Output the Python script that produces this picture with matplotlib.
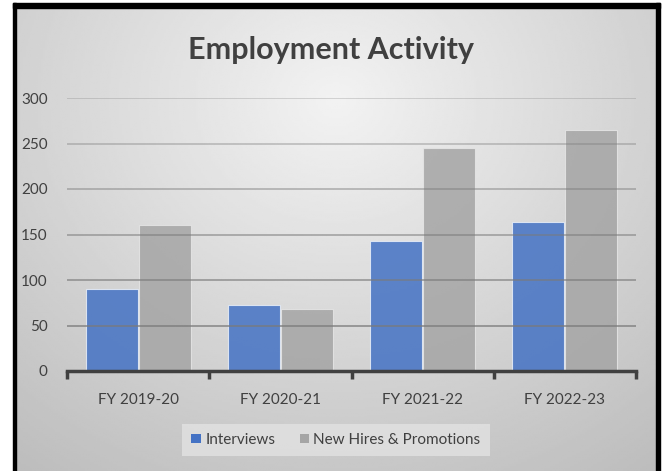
import numpy as np
import matplotlib
matplotlib.use("Agg")
import matplotlib.pyplot as plt
from matplotlib.patches import Rectangle

years = ["FY 2019-20", "FY 2020-21", "FY 2021-22", "FY 2022-23"]
interviews = [90, 72, 143, 164]
hires = [160, 68, 245, 265]
yticks = [0, 50, 100, 150, 200, 250, 300]

plt.rcParams['font.family'] = ['Lato', 'DejaVu Sans']
txt = '#404040'

W, H = 662, 471
fig = plt.figure(figsize=(W / 100, H / 100), dpi=100)
fig.patch.set_facecolor('white')

# gradient background inside the black frame
bg = fig.add_axes([16 / W, 0, (656 - 16) / W, 1 - 7 / H])
bg.set_axis_off()
gx, gy = np.meshgrid(np.linspace(0, 1, 300), np.linspace(0, 1, 220))
r = np.sqrt(((gx - 0.5) / 0.75) ** 2 + ((gy - 0.2) / 0.9) ** 2)
shade = 0.95 - 0.19 * np.clip(r, 0, 1.2)
bg.imshow(shade, cmap='gray', vmin=0, vmax=1, aspect='auto',
          extent=[0, 1, 1, 0], interpolation='bilinear')
bg.set_xlim(0, 1)
bg.set_ylim(1, 0)

# black frame lines (left, top, right)
fig.patches.append(Rectangle((13 / W, 0), 3 / W, 1 - 3 / H, transform=fig.transFigure,
                             color='black', zorder=5))
fig.patches.append(Rectangle((13 / W, 1 - 8 / H), (660 - 13) / W, 5 / H,
                             transform=fig.transFigure, color='black', zorder=5))
fig.patches.append(Rectangle((656 / W, 0), 4 / W, 1 - 3 / H, transform=fig.transFigure,
                             color='black', zorder=5))

ax = fig.add_axes([67 / W, 1 - 371 / H, (636 - 67) / W, (371 - 98) / H])
ax.set_facecolor('none')
x = np.arange(len(years))
w = 0.365
ax.bar(x - w / 2 - 0.004, interviews, w, color='#4472C4', alpha=0.85,
       edgecolor='#e8eef8', linewidth=0.8, zorder=2, label='Interviews')
ax.bar(x + w / 2 + 0.004, hires, w, color='#A5A5A5', alpha=0.85,
       edgecolor='#e6e6e6', linewidth=0.8, zorder=2, label='New Hires & Promotions')

ax.set_xlim(-0.5, 3.5)
ax.set_ylim(0, 300)
ax.set_yticks(yticks)
# gridlines fade towards the top like the original
for v in yticks[1:]:
    ax.axhline(v, color='#7a7a7a', linewidth=1.3, zorder=3,
               alpha=0.75 - 0.45 * (v - 50) / 250)
for s in ['top', 'right', 'left']:
    ax.spines[s].set_visible(False)
ax.spines['bottom'].set_color('#404040')
ax.spines['bottom'].set_linewidth(2.5)
ax.spines['bottom'].set_zorder(4)

ax.set_xticks(x)
ax.set_xticklabels(years)
ax.set_xticks(np.arange(-0.5, 4.0, 1.0), minor=True)
ax.tick_params(axis='x', which='major', length=0, pad=16, labelsize=11, labelcolor=txt)
ax.tick_params(axis='x', which='minor', length=6, width=2.5, color='#404040', direction='out')
ax.tick_params(axis='y', length=0, pad=14, labelsize=11, labelcolor=txt)

fig.text(0.5, 1 - 50 / H, "Employment Activity", ha='center', va='center',
         fontsize=22, fontweight='bold', color=txt)

leg = fig.legend(loc='center', bbox_to_anchor=(336 / W, 1 - 440 / H), ncol=2,
                 frameon=True, fontsize=11, handlelength=0.6, handleheight=0.6,
                 columnspacing=1.6, handletextpad=0.3, borderpad=0.6, fancybox=False)
leg.get_frame().set_facecolor('#e2e2e2')
leg.get_frame().set_edgecolor('none')
leg.get_frame().set_alpha(0.8)
for t in leg.get_texts():
    t.set_color(txt)
for h in leg.legend_handles:
    h.set_alpha(1)
    h.set_edgecolor('none')

fig.savefig('out.png', dpi=100)
